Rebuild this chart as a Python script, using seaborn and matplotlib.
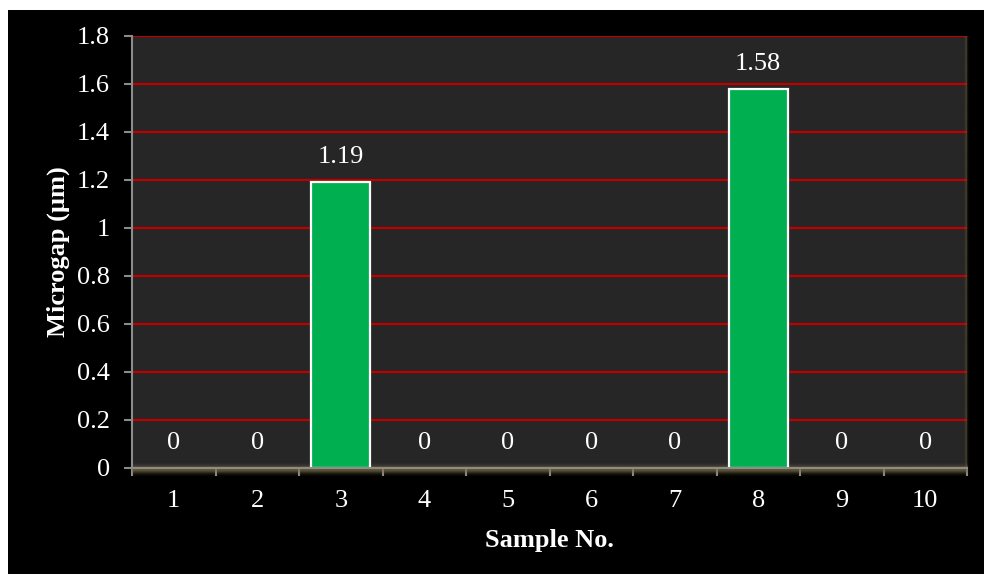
import matplotlib
matplotlib.use("Agg")
import matplotlib.pyplot as plt
from matplotlib.patches import Rectangle
import seaborn as sns
import pandas as pd
import numpy as np

samples = ["1", "2", "3", "4", "5", "6", "7", "8", "9", "10"]
microgap = [0, 0, 1.19, 0, 0, 0, 0, 1.58, 0, 0]
y_ticks = [0, 0.2, 0.4, 0.6, 0.8, 1, 1.2, 1.4, 1.6, 1.8]
y_tick_labels = ["0", "0.2", "0.4", "0.6", "0.8", "1", "1.2", "1.4", "1.6", "1.8"]

df = pd.DataFrame({"Sample": samples, "Microgap": microgap})

sns.set_theme(style="dark")
plt.rcParams["font.family"] = ["Liberation Serif", "DejaVu Serif"]

W, H = 984, 574
fig = plt.figure(figsize=(W / 100, H / 100), dpi=100, facecolor="white")

# black chart background with a thin white margin on top and left
fig.patches.append(Rectangle((8 / W, 0), 1 - 8 / W, 1 - 10 / H,
                             transform=fig.transFigure, facecolor="black",
                             edgecolor="none", zorder=-10))

ax = fig.add_axes([132 / W, 1 - 468 / H, (967 - 132) / W, (468 - 36) / H])
ax.set_facecolor("#262626")

sns.barplot(data=df, x="Sample", y="Microgap", order=samples, ax=ax,
            color="#00B050", edgecolor="white", linewidth=1.6, width=0.71,
            saturation=1, zorder=3)
# zero-height bars get no outline
for patch in ax.patches:
    if patch.get_height() == 0:
        patch.set_linewidth(0)

# soft khaki glow along the bottom and right edges of the plot area
glow_rgb = np.array([125, 115, 72]) / 255
n = 64
t = np.linspace(-1, 1, n)
alpha_v = 0.75 * np.exp(-(t / 0.45) ** 2)
img_v = np.zeros((n, 2, 4))
img_v[..., :3] = glow_rgb
img_v[..., 3] = alpha_v[::-1, None]
ax.imshow(img_v, extent=(-0.5, 9.5, -0.04, 0.03), aspect="auto",
          origin="upper", zorder=2, clip_on=False, interpolation="bilinear")
img_h = np.zeros((2, n, 4))
img_h[..., :3] = glow_rgb
img_h[..., 3] = 0.3 * np.exp(-(t / 0.45) ** 2)[None, :]
ax.imshow(img_h, extent=(9.5 - 0.05, 9.5 + 0.03, 0, 1.8), aspect="auto",
          origin="upper", zorder=2, clip_on=False, interpolation="bilinear")

ax.set_ylim(0, 1.8)
ax.set_xlim(-0.5, len(samples) - 0.5)
ax.set_yticks(y_ticks)
ax.set_yticklabels(y_tick_labels)

# red horizontal gridlines
ax.yaxis.grid(True, color="#C00000", linewidth=1.6, zorder=1)
ax.xaxis.grid(False)
ax.set_axisbelow(True)

for side in ["top", "right"]:
    ax.spines[side].set_visible(False)
for side in ["left", "bottom"]:
    ax.spines[side].set_visible(True)
    ax.spines[side].set_color("#8C8C8C")
    ax.spines[side].set_linewidth(1.5)
    ax.spines[side].set_zorder(4)

fs = 19
ax.tick_params(axis="y", which="major", direction="out", length=6, width=1.5,
               color="#8C8C8C", labelcolor="white", labelsize=fs, pad=10, left=True)
# x ticks sit between categories; labels stay centred
ax.set_xticks([i + 0.5 for i in range(-1, len(samples))], minor=True)
ax.tick_params(axis="x", which="minor", direction="out", length=6, width=1.5,
               color="#8C8C8C", bottom=True)
ax.tick_params(axis="x", which="major", length=0, labelcolor="white",
               labelsize=fs, pad=16)

ax.set_xlabel("Sample No.", color="white", fontsize=fs, fontweight="bold", labelpad=12)
ax.set_ylabel("Microgap (\u00b5m)", color="white", fontsize=fs, fontweight="bold", labelpad=5)

# value labels above each bar
for i, v in enumerate(microgap):
    ax.annotate(f"{v:g}", xy=(i, v), xytext=(0, 18), textcoords="offset points",
                ha="center", va="center", color="white", fontsize=fs, zorder=5)

fig.savefig("out.png", dpi=100, facecolor=fig.get_facecolor())
